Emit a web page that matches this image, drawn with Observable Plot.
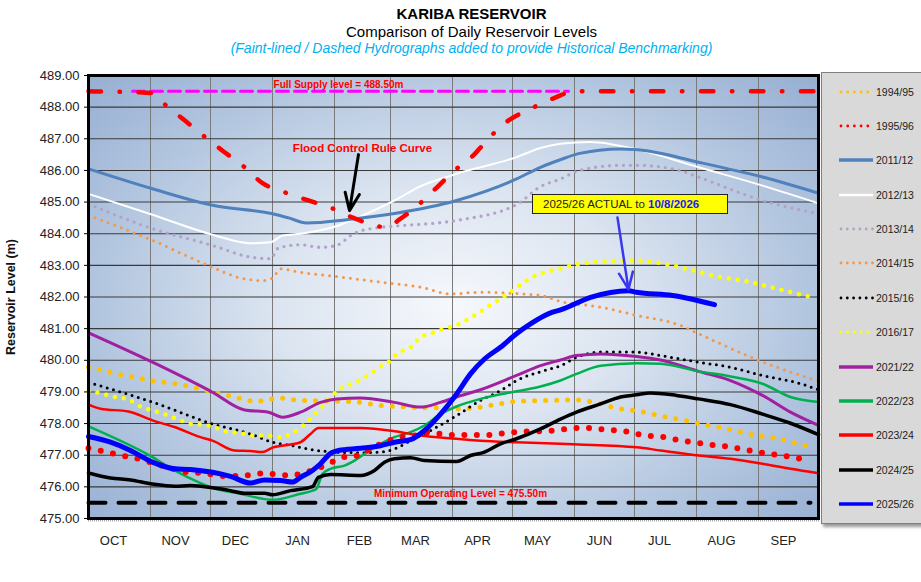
<!DOCTYPE html>
<html><head><meta charset="utf-8">
<script src="https://cdn.jsdelivr.net/npm/d3@7"></script>
<script src="https://cdn.jsdelivr.net/npm/@observablehq/plot@0.6"></script>
<style>
body{margin:0;background:#fff;font-family:"Liberation Sans",Arial,sans-serif;}
#wrap{position:relative;width:921px;height:582px;overflow:hidden;background:#fff;}
.t{position:absolute;left:11px;width:921px;text-align:center;font-size:14px;line-height:14px;white-space:nowrap;color:#000;}
#bg{position:absolute;left:88px;top:75px;width:730px;height:443px;
 background:radial-gradient(ellipse 70% 78% at 50% 52%, #f6f8fc 0%, #dbe4f0 35%, #b4c7e0 68%, #93acd1 100%);}
#chart{position:absolute;left:0;top:62px;}
#legend{position:absolute;left:821px;top:72px;width:110px;height:450px;background:#d9d9d9;border:1px solid #7f7f7f;box-shadow:2px 3px 3px rgba(0,0,0,0.4);}
.li{position:absolute;left:0;width:110px;height:14px;}
.li svg{position:absolute;left:16px;top:3px;}
.li span{position:absolute;left:54px;top:0;font-size:10.5px;line-height:14px;color:#222;}
#note{position:absolute;left:532px;top:194px;width:184px;height:18px;background:#ffff00;border:1.5px solid #222;font-size:11.5px;line-height:18px;color:#222;white-space:nowrap;padding-left:10px;box-sizing:content-box;}
#note b{color:#1a1aff;}
</style>
</head><body>
<div id="wrap">
  <div class="t" style="top:6px;font-size:15px;line-height:15px;font-weight:bold;">KARIBA RESERVOIR</div>
  <div class="t" style="top:24px;font-size:15px;line-height:15px;">Comparison of Daily Reservoir Levels</div>
  <div class="t" style="top:41px;font-style:italic;color:#00b0f0;">(Faint-lined / Dashed Hydrographs added to provide Historical Benchmarking)</div>
  <div id="bg"></div>
  <div id="chart"></div>
  <div id="legend"></div>
  <div id="note">2025/26 ACTUAL to <b>10/8/2026</b></div>
</div>
<script>
// ---- data: [day of water year (0 = 1 Oct), level m] ----
const wy1994_95 = [[0,479.78],[12,479.6],[32,479.36],[51,479.17],[62,479.0],[73,478.84],[84,478.7],[90,478.76],[96,478.8],[106,478.73],[124,478.71],[135,478.68],[146,478.57],[156,478.54],[166,478.5],[179,478.5],[186,478.47],[196,478.52],[206,478.63],[214,478.7],[231,478.73],[242,478.75],[253,478.67],[264,478.49],[276,478.38],[287,478.23],[298,478.1],[309,477.96],[321,477.81],[332,477.65],[343,477.54],[360,477.28]];
const wy1995_96 = [[0,477.22],[7,477.13],[13,477.04],[19,476.96],[26,476.87],[32,476.76],[38,476.65],[44,476.54],[50,476.46],[56,476.44],[62,476.39],[69,476.34],[75,476.34],[82,476.39],[88,476.43],[94,476.39],[100,476.36],[106,476.41],[118,476.67],[129,476.96],[135,476.99],[141,477.2],[150,477.46],[156,477.57],[163,477.62],[170,477.73],[176,477.67],[182,477.64],[201,477.64],[208,477.7],[220,477.75],[233,477.78],[239,477.83],[245,477.86],[252,477.86],[258,477.81],[265,477.78],[271,477.73],[278,477.62],[284,477.6],[290,477.55],[296,477.46],[303,477.41],[309,477.34],[316,477.3],[322,477.25],[328,477.18],[334,477.11],[341,477.04],[347,476.99],[353,476.92],[360,476.86]];
const wy2011_12 = [[0,486.05],[32,485.42],[62,484.9],[92,484.63],[100,484.5],[109,484.34],[130,484.45],[153,484.64],[184,485.05],[214,485.73],[226,486.1],[236,486.34],[245,486.53],[266,486.68],[275,486.65],[305,486.26],[337,485.79],[365,485.28]];
const wy2012_13 = [[0,485.26],[32,484.6],[62,483.97],[81,483.7],[91,483.73],[97,483.94],[106,484.0],[125,484.26],[136,484.55],[153,485.05],[166,485.5],[184,485.89],[214,486.42],[226,486.71],[236,486.84],[251,486.9],[275,486.65],[305,486.1],[337,485.52],[365,484.96]];
const wy2013_14 = [[0,484.94],[32,484.16],[62,483.63],[81,483.26],[91,483.21],[95,483.55],[106,483.65],[116,483.57],[124,483.63],[133,484.02],[146,484.2],[153,484.24],[184,484.42],[214,484.92],[226,485.49],[236,485.73],[245,485.99],[266,486.16],[275,486.16],[296,485.99],[305,485.79],[337,485.05],[365,484.63]];
const wy2014_15 = [[0,484.58],[32,483.79],[62,482.94],[76,482.6],[87,482.52],[92,482.6],[96,482.89],[106,482.78],[126,482.63],[146,482.47],[166,482.31],[181,482.1],[196,482.15],[216,482.1],[226,482.05],[236,481.86],[256,481.68],[274,481.42],[296,481.1],[305,480.84],[337,479.95],[365,479.34]];
const wy2015_16 = [[0,479.3],[32,478.68],[62,477.99],[81,477.67],[92,477.41],[102,477.3],[114,477.15],[124,477.1],[136,477.08],[146,477.1],[153,477.2],[161,477.46],[171,477.78],[184,478.25],[196,478.73],[206,479.04],[214,479.36],[226,479.64],[236,479.83],[245,480.12],[256,480.26],[274,480.26],[286,480.15],[305,479.94],[321,479.78],[337,479.52],[356,479.26],[365,479.07]];
const wy2016_17 = [[0,479.02],[6,478.96],[13,478.84],[20,478.76],[26,478.54],[32,478.41],[38,478.3],[45,478.13],[51,477.99],[58,477.96],[64,477.86],[70,477.73],[76,477.7],[82,477.62],[89,477.62],[95,477.57],[101,477.67],[109,478.04],[115,478.41],[120,478.75],[125,479.06],[129,479.18],[135,479.36],[141,479.57],[146,479.8],[150,479.94],[154,480.2],[161,480.41],[166,480.73],[171,480.84],[178,481.0],[186,481.17],[193,481.42],[201,481.75],[212,482.2],[219,482.52],[227,482.76],[236,482.9],[244,483.03],[256,483.12],[266,483.15],[274,483.15],[286,483.07],[301,482.86],[316,482.63],[331,482.47],[346,482.23],[363,481.97]];
const wy2021_22 = [[0,480.87],[32,479.94],[62,478.99],[78,478.43],[90,478.36],[97,478.2],[106,478.36],[116,478.67],[124,478.78],[136,478.81],[153,478.67],[166,478.52],[176,478.67],[184,478.84],[196,479.07],[214,479.52],[226,479.83],[236,480.01],[244,480.15],[256,480.2],[274,480.12],[286,480.01],[305,479.65],[321,479.36],[337,478.89],[351,478.36],[365,477.94]];
const wy2022_23 = [[0,477.91],[32,476.94],[43,476.52],[56,476.12],[62,475.97],[76,475.78],[92,475.59],[106,475.78],[112,475.88],[114,475.94],[117,476.41],[121,476.57],[128,476.67],[133,476.83],[138,477.04],[146,477.36],[153,477.57],[161,477.73],[168,477.94],[176,478.3],[184,478.54],[196,478.78],[214,479.02],[226,479.17],[236,479.36],[244,479.57],[256,479.83],[274,479.91],[286,479.89],[305,479.65],[321,479.49],[337,479.26],[351,478.84],[365,478.68]];
const wy2023_24 = [[0,478.6],[6,478.47],[20,478.38],[32,478.1],[43,477.89],[56,477.57],[62,477.46],[73,477.15],[81,477.13],[87,477.1],[92,477.24],[101,477.34],[106,477.41],[111,477.67],[115,477.86],[136,477.86],[153,477.76],[166,477.62],[184,477.52],[196,477.46],[214,477.41],[236,477.36],[245,477.34],[274,477.25],[286,477.15],[305,476.99],[321,476.89],[337,476.73],[351,476.57],[365,476.43]];
const wy2024_25 = [[0,476.44],[11,476.28],[21,476.22],[32,476.09],[43,476.02],[51,476.04],[62,475.97],[71,475.88],[78,475.8],[88,475.8],[92,475.75],[101,475.88],[112,476.01],[115,476.3],[121,476.39],[136,476.36],[143,476.52],[148,476.78],[153,476.89],[161,476.92],[168,476.83],[184,476.8],[191,476.99],[198,477.1],[206,477.36],[214,477.52],[226,477.83],[236,478.14],[244,478.36],[256,478.62],[266,478.84],[274,478.91],[281,478.97],[294,478.89],[305,478.78],[321,478.6],[337,478.3],[351,478.01],[365,477.65]];
const wy2025_26 = [[0,477.59],[11,477.41],[21,477.15],[32,476.78],[43,476.57],[51,476.55],[62,476.46],[71,476.33],[81,476.12],[88,476.22],[96,476.2],[102,476.15],[106,476.3],[112,476.52],[116,476.73],[121,477.06],[125,477.15],[136,477.22],[146,477.3],[153,477.41],[161,477.49],[168,477.78],[176,478.3],[184,478.93],[191,479.57],[198,480.04],[206,480.41],[214,480.84],[221,481.15],[232,481.52],[236,481.59],[251,481.99],[270,482.2],[274,482.15],[292,482.05],[313,481.76]];
const floodRuleCurve = [[0,488.5],[31,488.45],[38.5,488.07],[48.5,487.56],[58,487.07],[67.5,486.6],[77.5,486.13],[87,485.6],[98,485.31],[110,485.05],[121.5,484.81],[132.5,484.5],[144.5,484.24],[149,484.2],[155.5,484.45],[164.5,484.89],[174,485.45],[182.5,485.97],[192,486.45],[200.5,487.04],[210,487.58],[220.5,487.93],[232.5,488.28],[243.5,488.5],[365,488.5]];
const fullSupply = [[22,488.5],[240,488.5]];
const minOperating = [[0,475.5],[361,475.5]];
const monthLabels = ["OCT","NOV","DEC","JAN","FEB","MAR","APR","MAY","JUN","JUL","AUG","SEP"];
const yTicks = [475,476,477,478,479,480,481,482,483,484,485,486,487,488,489];
const annotations = [
  {d:125, v:488.72, text:"Full Supply level = 488.50m", size:10},
  {d:137, v:486.69, text:"Flood Control Rule Curve", size:11.5},
  {d:186, v:475.79, text:"Minimum Operating Level = 475.50m", size:10}
];
const blackArrow = [{d1:135, v1:486.5, d2:130.5, v2:484.73}];
const blueArrow = [{d1:264.5, v1:484.51, d2:270, v2:482.24}];

// ---- helpers ----
const t0 = Date.UTC(2025, 9, 1);
const day = d => new Date(t0 + d * 864e5);
const monthStarts = d3.utcMonth.range(day(1), day(365));
const labelDates = d3.utcMonth.range(day(0), day(365)).map(m => new Date(+m + 12.5 * 864e5));
const dailyTicks = d3.utcDay.range(day(0), day(365.5));

const series = [
  {name:"1994/95", data:wy1994_95, stroke:"#ffc000", w:5, dash:"0 11", lw:2.8, ldash:"0 6.7"},
  {name:"1995/96", data:wy1995_96, stroke:"#ff0000", w:6, dash:"0 12.5", lw:2.8, ldash:"0 6.7"},
  {name:"2011/12", data:wy2011_12, stroke:"#4f81bd", w:3, dash:null, lw:3.5},
  {name:"2012/13", data:wy2012_13, stroke:"#ffffff", w:2, dash:null, lw:2.5},
  {name:"2013/14", data:wy2013_14, stroke:"#b3a2c7", w:3.3, dash:"0 7", lw:2.8, ldash:"0 6.3"},
  {name:"2014/15", data:wy2014_15, stroke:"#f79646", w:3, dash:"0 7", lw:2.8, ldash:"0 6.3"},
  {name:"2015/16", data:wy2015_16, stroke:"#000000", w:3, dash:"0 6.5", lw:2.8, ldash:"0 6.3"},
  {name:"2016/17", data:wy2016_17, stroke:"#ffff00", w:4.5, dash:"0 9", lw:2.8, ldash:"0 6.7"},
  {name:"2021/22", data:wy2021_22, stroke:"#a020a0", w:3, dash:null, lw:3.5},
  {name:"2022/23", data:wy2022_23, stroke:"#00b050", w:2.5, dash:null, lw:3.5},
  {name:"2023/24", data:wy2023_24, stroke:"#ff0000", w:2.5, dash:null, lw:3.5},
  {name:"2024/25", data:wy2024_25, stroke:"#000000", w:3.5, dash:null, lw:3.5},
  {name:"2025/26", data:wy2025_26, stroke:"#0000ff", w:5, dash:null, lw:3.5}
];
const byName = Object.fromEntries(series.map(s => [s.name, s]));
const lineMark = s => Plot.line(s.data, {
  x: p => day(p[0]), y: p => p[1], stroke: s.stroke, strokeWidth: s.w,
  strokeDasharray: s.dash || undefined, strokeLinecap: "round", strokeLinejoin: "round", curve: "monotone-x"
});

const chart = Plot.plot({
  width: 921, height: 520,
  marginLeft: 88, marginRight: 103, marginTop: 13, marginBottom: 64,
  style: {background: "transparent", fontFamily: "'Liberation Sans', Arial, sans-serif", fontSize: "13px", overflow: "visible"},
  x: {type: "utc", domain: [day(0), day(365)]},
  y: {domain: [475, 489]},
  marks: [
    Plot.ruleX(monthStarts, {stroke: "#7a7a7a", strokeWidth: 1}),
    Plot.ruleY(yTicks.slice(1, -1), {stroke: "#3a3a3a", strokeWidth: 1.1}),
    Plot.ruleX(dailyTicks, {x: d => d, y1: 475, y2: 474.89, stroke: "#666", strokeWidth: 0.6}),
    Plot.line(minOperating, {x: p => day(p[0]), y: p => p[1], stroke: "#000", strokeWidth: 4, strokeDasharray: "17 13"}),
    Plot.line(fullSupply, {x: p => day(p[0]), y: p => p[1], stroke: "#ff00ff", strokeWidth: 3, strokeDasharray: "12 6"}),
    lineMark(byName["2012/13"]),
    lineMark(byName["2011/12"]),
    lineMark(byName["2013/14"]),
    lineMark(byName["2014/15"]),
    Plot.line(floodRuleCurve, {x: p => day(p[0]), y: p => p[1], stroke: "#ff0000", strokeWidth: 4.5,
      strokeDasharray: "12.5 18.5 0.5 18.5", strokeLinecap: "round", curve: "monotone-x"}),
    lineMark(byName["1994/95"]),
    lineMark(byName["2015/16"]),
    lineMark(byName["2016/17"]),
    lineMark(byName["2021/22"]),
    lineMark(byName["2022/23"]),
    lineMark(byName["1995/96"]),
    lineMark(byName["2023/24"]),
    lineMark(byName["2024/25"]),
    lineMark(byName["2025/26"]),
    Plot.frame({stroke: "#000", strokeWidth: 3}),
    Plot.text(annotations, {x: a => day(a.d), y: "v", text: "text", fontSize: "size", fill: "#ff0000", fontWeight: "bold"}),
    Plot.arrow(blackArrow, {x1: a => day(a.d1), y1: "v1", x2: a => day(a.d2), y2: "v2", stroke: "#000", strokeWidth: 3, headLength: 11, headAngle: 45}),
    Plot.arrow(blueArrow, {x1: a => day(a.d1), y1: "v1", x2: a => day(a.d2), y2: "v2", stroke: "#3838f0", strokeWidth: 2.5, headLength: 11, headAngle: 45}),
    Plot.axisY(yTicks, {tickFormat: d3.format(".2f"), tickSize: 4, tickPadding: 5, fontSize: 13, label: null, fill: "#222"}),
    Plot.axisX(labelDates, {tickSize: 0, tickPadding: 17, fontSize: 13, label: null, fill: "#222",
      tickFormat: d => monthLabels[labelDates.findIndex(x => +x === +d)]}),
    Plot.text(["Reservoir Level (m)"], {frameAnchor: "left", textAnchor: "middle", dx: -78, rotate: -90, fontWeight: "bold", fontSize: 12.5, fill: "#111"})
  ]
});
document.getElementById("chart").appendChild(chart);

// legend
const leg = document.getElementById("legend");
series.forEach((s, i) => {
  const el = document.createElement("div");
  el.className = "li";
  el.style.top = (11.7 + i * 34.35) + "px";
  const dash = s.ldash ? `stroke-dasharray="${s.ldash}" stroke-linecap="round"` : "";
  const x1 = s.ldash ? 3 : 1;
  const x2 = s.ldash ? (s.ldash === "0 6.7" ? 30 : 35) : 35;
  el.innerHTML = `<svg width="36" height="8"><line x1="${x1}" y1="4" x2="${x2}" y2="4" stroke="${s.stroke}" stroke-width="${s.lw}" ${dash}/></svg><span>${s.name}</span>`;
  leg.appendChild(el);
});
</script>
</body></html>
